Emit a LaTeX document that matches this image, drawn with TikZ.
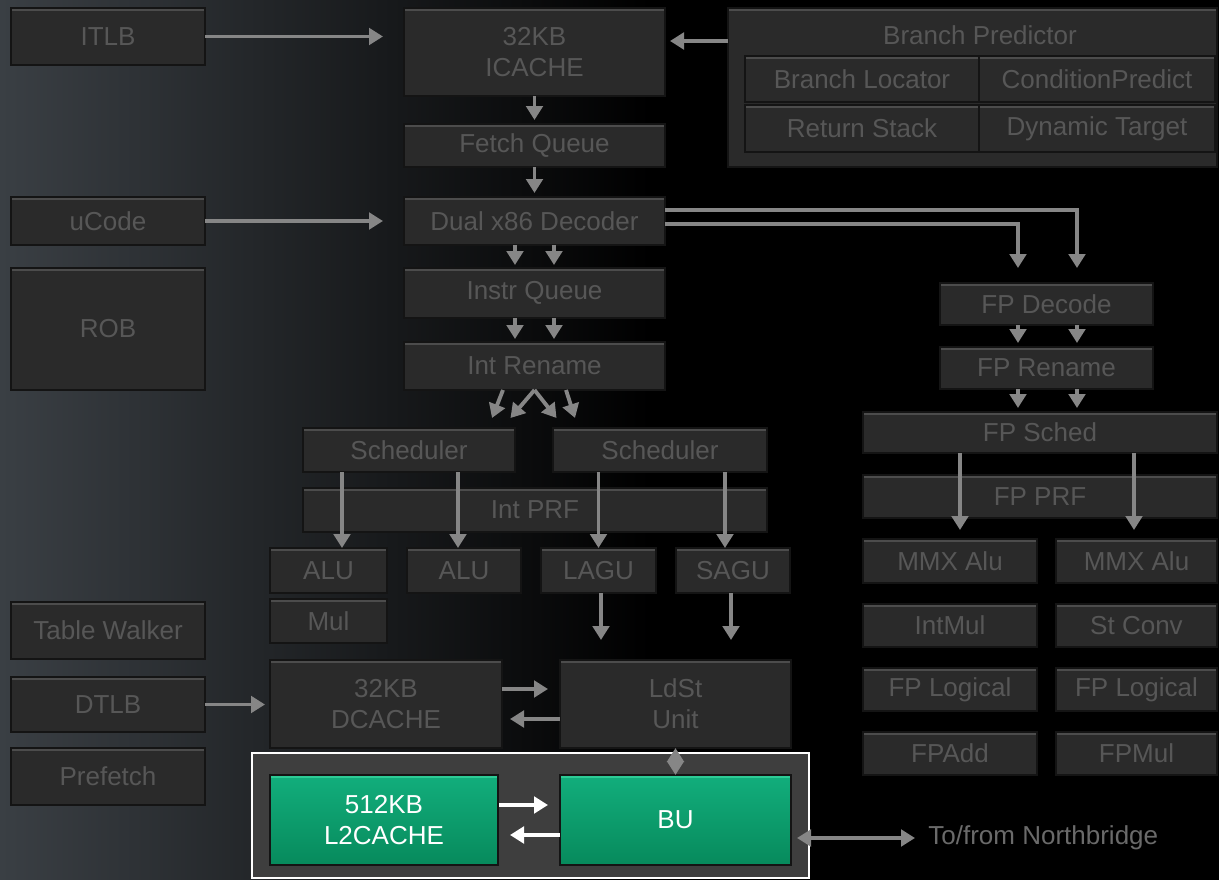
\documentclass[tikz,border=0pt]{standalone}
\usepackage{fontspec}
\setmainfont{Liberation Sans}
\definecolor{bgleft}{HTML}{3A3F44}
\definecolor{boxfill}{HTML}{2A2A2A}
\definecolor{boxedge}{HTML}{141414}
\definecolor{boxlite}{HTML}{4C4C4C}
\definecolor{boxtext}{HTML}{575757}
\definecolor{nbtext}{HTML}{6A6A6A}
\definecolor{arrgray}{HTML}{868686}
\definecolor{l2top}{HTML}{12AE7C}
\definecolor{l2bot}{HTML}{078A5C}
\definecolor{l2lite}{HTML}{2ECB96}
\definecolor{framegray}{HTML}{3E3E3E}
\usetikzlibrary{arrows.meta, calc}
\newcommand{\lblfont}{\fontsize{14.8}{17.6}\selectfont}

\begin{document}
\begin{tikzpicture}[x=0.2mm, y=-0.2mm,
  blk/.style={draw=boxedge, line width=0.6pt, fill=boxfill, text=boxtext,
              font=\lblfont, align=center, inner sep=0pt, outer sep=0pt,
              path picture={\draw[boxlite, line width=1.2mm]
                (path picture bounding box.north west) -- (path picture bounding box.north east);}},
  sz/.style 2 args={minimum width=#1*0.2mm, minimum height=#2*0.2mm},
  grn/.style={blk, top color=l2top, bottom color=l2bot, text=white,
              path picture={\draw[l2lite, line width=1.2mm]
                (path picture bounding box.north west) -- (path picture bounding box.north east);}},
  arr/.style={draw=arrgray, line width=2.2pt, -{Triangle[length=2.8mm, width=3.3mm]}},
  warr/.style={arr, draw=white},
  dbl/.style={arr, {Triangle[length=2.8mm, width=3.3mm]}-{Triangle[length=2.8mm, width=3.3mm]}},
]
  % background
  \useasboundingbox (0,0) rectangle (1219,880);
  \fill[black] (0,0) rectangle (1219,880);
  \shade[left color=bgleft, right color=black] (0,0) rectangle (650,880);

  % left column
  \node[blk, sz={194}{57}] (itlb) at (108,36.5) {ITLB};
  \node[blk, sz={194}{48}] (ucode) at (108,221) {uCode};
  \node[blk, sz={194}{122}] (rob) at (108,329) {ROB};
  \node[blk, sz={194}{57}] (tw) at (108,630.5) {Table Walker};
  \node[blk, sz={194}{55}] (dtlb) at (108,704.5) {DTLB};
  \node[blk, sz={194}{57}] (pref) at (108,776.5) {Prefetch};

  % front end
  \node[blk, sz={261}{88}] (icache) at (534.5,52) {32KB\\ICACHE};
  \node[blk, sz={261}{43}] (fq) at (534.5,145.5) {Fetch Queue};
  \node[blk, sz={261}{48}] (dec) at (534.5,221) {Dual x86 Decoder};
  \node[blk, sz={261}{50}] (iq) at (534.5,293) {Instr Queue};
  \node[blk, sz={261}{48}] (irn) at (534.5,366) {Int Rename};

  % branch predictor
  \node[blk, sz={489}{159}] (bp) at (972.5,87.5) {};
  \node[font=\lblfont, text=boxtext] (bptitle) at (980,35) {Branch Predictor};
  \node[blk, sz={234}{46}] (bl) at (862,79) {Branch Locator};
  \node[blk, sz={236}{46}] (cp) at (1097,79) {ConditionPredict};
  \node[blk, sz={234}{47}] (rs) at (862,128.5) {Return Stack};
  \node[blk, sz={236}{47}] (dt) at (1097,128.5) {Dynamic Target};

  % integer side
  \node[blk, sz={212}{44}] (sch1) at (409,450) {Scheduler};
  \node[blk, sz={214}{44}] (sch2) at (660,450) {Scheduler};
  \node[blk, sz={464}{44}] (iprf) at (535,510) {Int PRF};
  \node[blk, sz={117}{45}] (alu1) at (328.5,570.5) {ALU};
  \node[blk, sz={114}{45}] (alu2) at (464,570.5) {ALU};
  \node[blk, sz={115}{45}] (lagu) at (598.5,570.5) {LAGU};
  \node[blk, sz={114}{45}] (sagu) at (733,570.5) {SAGU};
  \node[blk, sz={117}{44}] (mul) at (328.5,621) {Mul};
  \node[blk, sz={232}{88}] (dc) at (386,704) {32KB\\DCACHE};
  \node[blk, sz={231}{88}] (ldst) at (675.5,704) {LdSt\\Unit};

  % L2 block
  \node[draw=white, line width=0.5mm, fill=framegray, sz={557}{125}] (l2frame) at (530.5,815.5) {};
  \node[grn, sz={228}{90}] (l2) at (384,820) {512KB\\L2CACHE};
  \node[grn, sz={231}{90}] (bu) at (675.5,820) {BU};
  \node[font=\lblfont, text=nbtext, anchor=west, inner sep=0pt] (nb) at (928,838) {To/from Northbridge};

  % floating point side
  \node[blk, sz={213}{42}] (fpd) at (1046.5,304) {FP Decode};
  \node[blk, sz={213}{42}] (fpr) at (1046.5,368) {FP Rename};
  \node[blk, sz={354}{41}] (fps) at (1040,432.5) {FP Sched};
  \node[blk, sz={354}{43}] (fpprf) at (1040,496.5) {FP PRF};
  \node[blk, sz={174}{44}] (mmx1) at (950,561) {MMX Alu};
  \node[blk, sz={161}{44}] (mmx2) at (1136.5,561) {MMX Alu};
  \node[blk, sz={174}{43}] (imul) at (950,625.5) {IntMul};
  \node[blk, sz={161}{43}] (stc) at (1136.5,625.5) {St Conv};
  \node[blk, sz={174}{43}] (fpl1) at (950,689.5) {FP Logical};
  \node[blk, sz={161}{43}] (fpl2) at (1136.5,689.5) {FP Logical};
  \node[blk, sz={174}{43}] (fpadd) at (950,753.5) {FPAdd};
  \node[blk, sz={161}{43}] (fpmul) at (1136.5,753.5) {FPMul};

  % front end arrows
  \draw[arr, shorten >=4.2mm] (itlb.east) -- (itlb.east -| icache.west);
  \draw[arr, shorten >=4.2mm] (ucode.east) -- (dec.west);
  \draw[arr, shorten >=1mm] ([yshift=2.2mm]icache.east -| bp.west) -- ([yshift=2.2mm]icache.east);
  \draw[arr, shorten >=0.8mm] (icache.south) -- (fq.north);
  \draw[arr, shorten >=0.8mm] (fq.south) -- (dec.north);
  \foreach \dx in {-3.9mm, 3.9mm} {
    \draw[arr, shorten >=0.6mm] ([xshift=\dx]dec.south) -- ([xshift=\dx]iq.north);
    \draw[arr, shorten >=0.6mm] ([xshift=\dx]iq.south) -- ([xshift=\dx]irn.north);
  }
  \draw[arr] ([xshift=-6.3mm]irn.south) -- ++(-11,28);
  \draw[arr] (irn.south) -- ++(-24,28);
  \draw[arr] (irn.south) -- ++(22,28);
  \draw[arr] ([xshift=6.3mm]irn.south) -- ++(9,28);

  % decoder to FP
  \draw[arr, shorten >=3mm] ([yshift=2.2mm]dec.east) -| ([xshift=6.1mm]fpd.north);
  \draw[arr, shorten >=3mm] ([yshift=-0.6mm]dec.east) -| ([xshift=-5.7mm]fpd.north);
  \foreach \dx in {-5.7mm, 6.1mm} {
    \draw[arr, shorten >=0.8mm] ([xshift=\dx]fpd.south) -- ([xshift=\dx]fpr.north);
    \draw[arr, shorten >=0.8mm] ([xshift=\dx]fpr.south) -- ([xshift=\dx]fpr.south |- fps.north);
  }
  \draw[arr, shorten >=1.8mm] ([xshift=2mm]mmx1.north |- fps.south) -- ([xshift=2mm]mmx1.north);
  \draw[arr, shorten >=1.8mm] ([xshift=-0.5mm]mmx2.north |- fps.south) -- ([xshift=-0.5mm]mmx2.north);

  % integer arrows
  \draw[arr] ([xshift=2.7mm]alu1.north |- sch1.south) -- ([xshift=2.7mm]alu1.north);
  \draw[arr] ([xshift=-1.2mm]alu2.north |- sch1.south) -- ([xshift=-1.2mm]alu2.north);
  \draw[arr] (lagu.north |- sch2.south) -- (lagu.north);
  \draw[arr] ([xshift=-1.6mm]sagu.north |- sch2.south) -- ([xshift=-1.6mm]sagu.north);
  \draw[arr, shorten >=4mm] ([xshift=0.5mm]lagu.south) -- ([xshift=0.5mm]lagu.south |- ldst.north);
  \draw[arr, shorten >=4mm] ([xshift=-0.4mm]sagu.south) -- ([xshift=-0.4mm]sagu.south |- ldst.north);

  % memory arrows
  \draw[arr, shorten >=1mm] (dtlb.east) -- (dtlb.east -| dc.west);
  \draw[arr, shorten >=2.4mm] ([yshift=3mm]dc.east) -- ([yshift=3mm]ldst.west);
  \draw[arr, shorten >=1.6mm] ([yshift=-3mm]ldst.west) -- ([yshift=-3mm]dc.east);
  \draw[dbl] (ldst.south) -- (bu.north);
  \draw[warr, shorten <=0.2mm, shorten >=2.4mm] ([yshift=3mm]l2.east) -- ([yshift=3mm]bu.west);
  \draw[warr, shorten >=2.4mm] ([yshift=-3mm]bu.west) -- ([yshift=-3mm]l2.east);
  \draw[dbl, shorten <=1.2mm, shorten >=2.6mm] ([yshift=-3.6mm]bu.east) -- (nb.west);
\end{tikzpicture}
\end{document}
